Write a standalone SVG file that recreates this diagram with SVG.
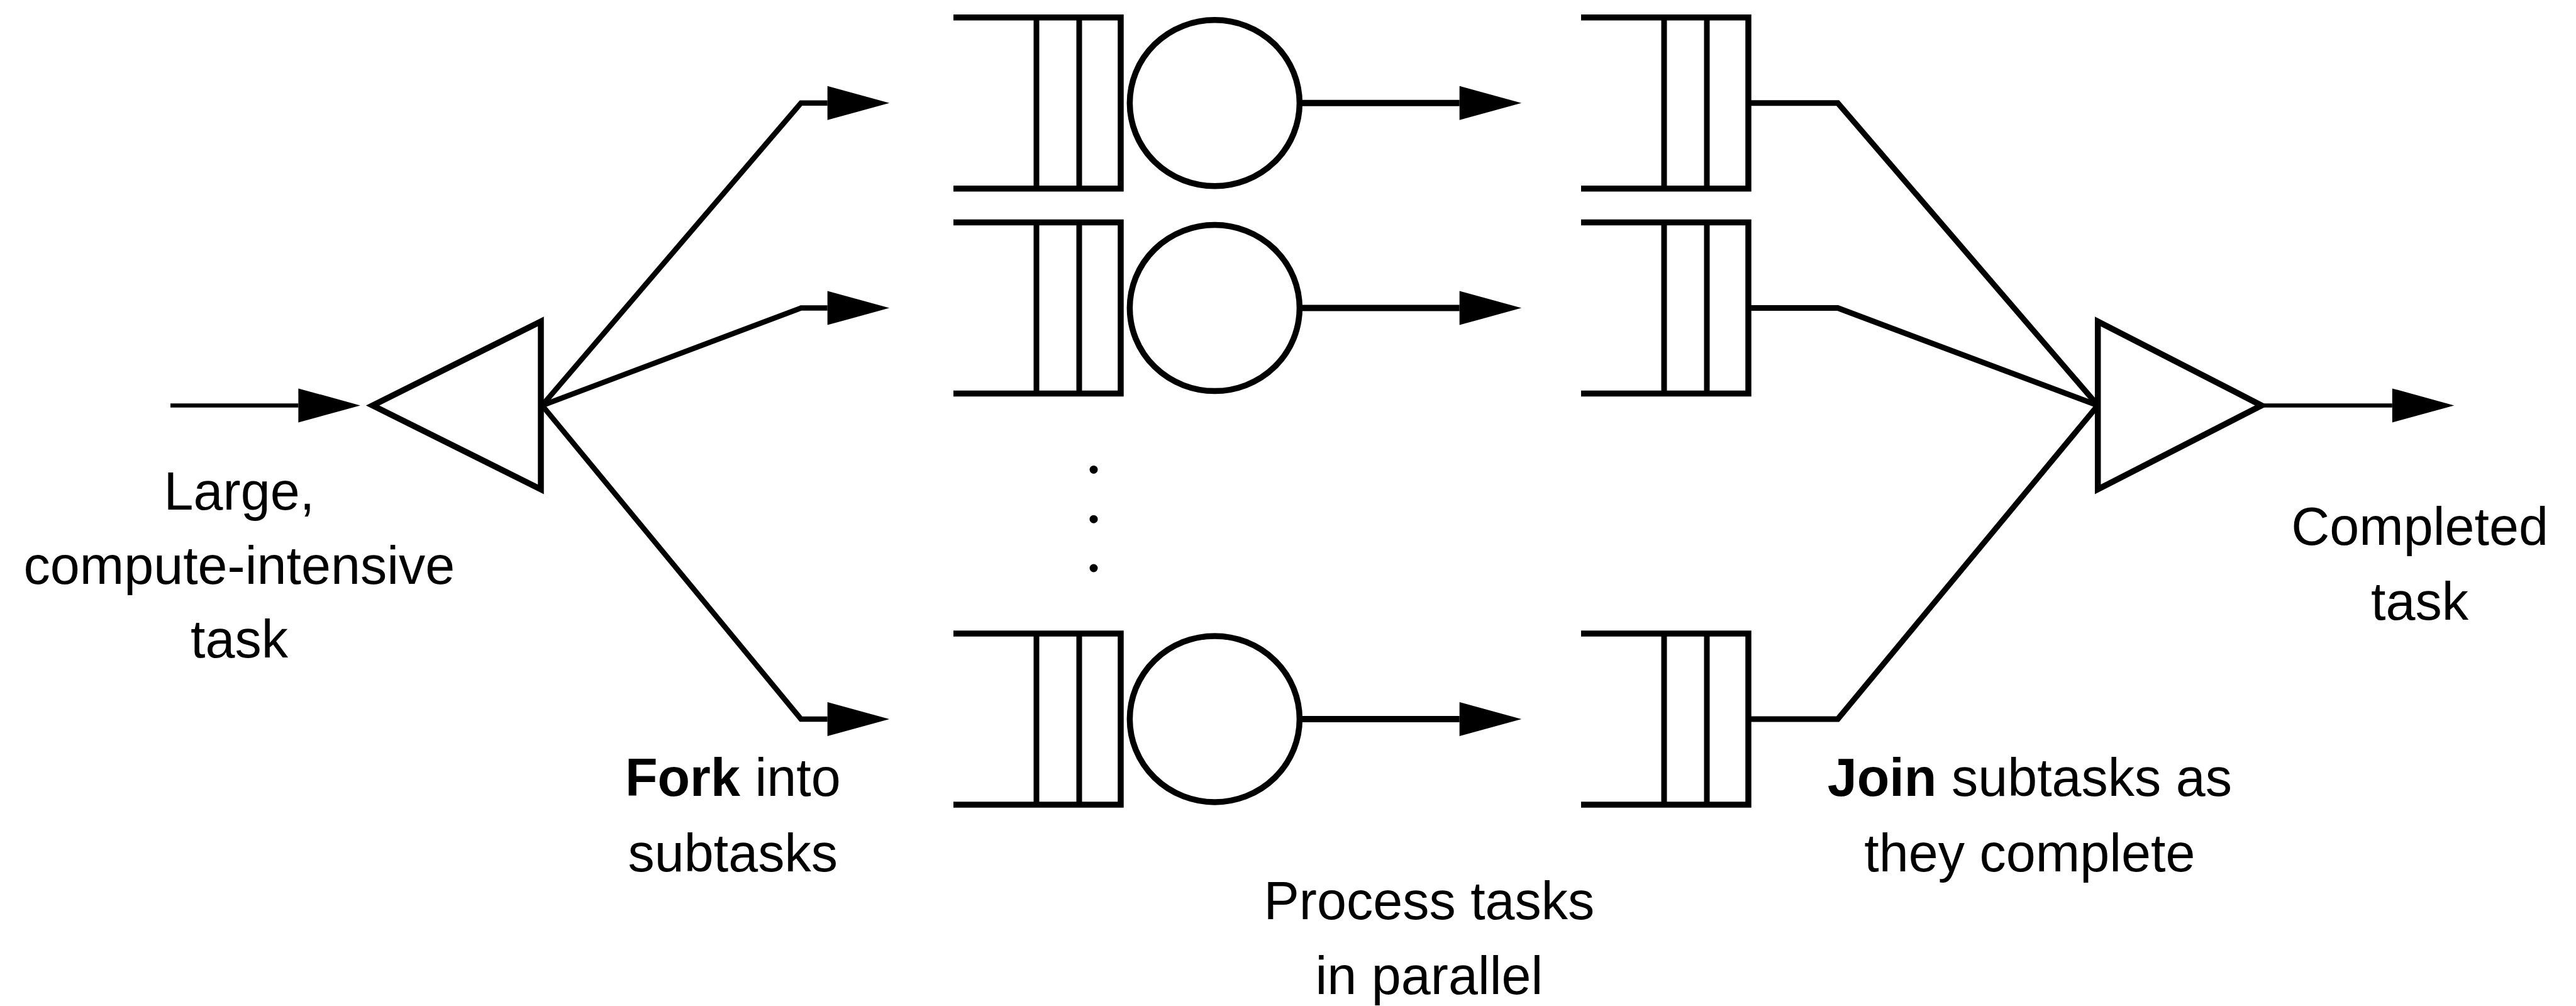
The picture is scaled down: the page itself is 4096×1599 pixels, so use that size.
<svg xmlns="http://www.w3.org/2000/svg" width="4096" height="1599" viewBox="0 0 4096 1599">
  <defs>
    <style>
      .shape { fill: none; stroke: #000; stroke-width: 9.5; stroke-linejoin: miter; stroke-miterlimit: 10; }
      .divider { fill: none; stroke: #000; stroke-width: 9; }
      .server { fill: none; stroke: #000; stroke-width: 9.5; }
      .io { fill: none; stroke: #000; stroke-width: 6.5; }
      .fork { fill: none; stroke: #000; stroke-width: 8.5; stroke-linejoin: miter; }
      .join { fill: none; stroke: #000; stroke-width: 9; stroke-linejoin: miter; }
      .work { fill: none; stroke: #000; stroke-width: 10; }
      .label { font-family: "Liberation Sans", Arial, Helvetica, sans-serif; font-size: 84.5px; fill: #000; text-anchor: middle; }
      .strong { font-weight: bold; }
    </style>
    <marker id="arrow" markerUnits="userSpaceOnUse" markerWidth="100" markerHeight="56" refX="0" refY="0" orient="auto" overflow="visible">
      <path d="M0,-27 L98.5,0 L0,27 Z" fill="#000"/>
    </marker>
    <!-- queue: open on the left, closed on the right, two slot dividers -->
    <g id="queue-shape">
      <path class="shape" d="M0,-136 H266 V136 H0"/>
      <line class="divider" x1="132" y1="-136" x2="132" y2="136"/>
      <line class="divider" x1="200" y1="-136" x2="200" y2="136"/>
    </g>
  </defs>

  <rect width="4096" height="1599" fill="#fff"/>

  <!-- fork and join triangles -->
  <g id="fork-node">
    <polygon class="shape" points="592.5,644.4 860,511 860,777.8"/>
  </g>
  <g id="join-node">
    <polygon class="shape" points="3335.7,511 3596,644.4 3335.7,777.8"/>
  </g>

  <!-- worker rows: queue + server -->
  <g id="worker-1">
    <use href="#queue-shape" x="1516" y="163.8"/>
    <ellipse class="server" cx="1931.4" cy="163.8" rx="135" ry="132"/>
  </g>
  <g id="worker-2">
    <use href="#queue-shape" x="1516" y="489.6"/>
    <ellipse class="server" cx="1931.4" cy="489.6" rx="135" ry="132"/>
  </g>
  <g id="worker-n">
    <use href="#queue-shape" x="1516" y="1142.9"/>
    <ellipse class="server" cx="1931.4" cy="1142.9" rx="135" ry="132"/>
  </g>

  <!-- ellipsis between worker rows -->
  <g id="more-workers">
    <circle cx="1739" cy="746.4" r="6.5" fill="#000"/>
    <circle cx="1739" cy="825.2" r="6.5" fill="#000"/>
    <circle cx="1739" cy="903" r="6.5" fill="#000"/>
  </g>

  <!-- result queues feeding the join -->
  <g id="result-queue-1">
    <use href="#queue-shape" x="2514" y="163.8"/>
  </g>
  <g id="result-queue-2">
    <use href="#queue-shape" x="2514" y="489.6"/>
  </g>
  <g id="result-queue-n">
    <use href="#queue-shape" x="2514" y="1142.9"/>
  </g>

  <g id="connectors">
    <line class="io" x1="271" y1="644.4" x2="474.4" y2="644.4" marker-end="url(#arrow)"/>
    <path class="fork" d="M862,644.4 L1273.6,163.8 H1315.7" marker-end="url(#arrow)"/>
    <path class="fork" d="M862,644.4 L1273.6,489.6 H1315.7" marker-end="url(#arrow)"/>
    <path class="fork" d="M862,644.4 L1273.6,1142.9 H1315.7" marker-end="url(#arrow)"/>
    <line class="work" x1="2067" y1="163.8" x2="2320.7" y2="163.8" marker-end="url(#arrow)"/>
    <line class="work" x1="2067" y1="489.6" x2="2320.7" y2="489.6" marker-end="url(#arrow)"/>
    <line class="work" x1="2067" y1="1142.9" x2="2320.7" y2="1142.9" marker-end="url(#arrow)"/>
    <path class="join" d="M2781,163.8 H2922.2 L3335.7,644.4"/>
    <path class="join" d="M2781,489.6 H2922.2 L3335.7,644.4"/>
    <path class="join" d="M2781,1142.9 H2922.2 L3335.7,644.4"/>
    <line class="io" x1="3599.7" y1="644.4" x2="3803.8" y2="644.4" marker-end="url(#arrow)"/>
  </g>

  <g id="labels">
    <text class="label" x="380.4" y="810">Large,</text>
    <text class="label" x="380.4" y="928.1">compute-intensive</text>
    <text class="label" x="380.4" y="1045.4">task</text>

    <text class="label" x="1165.3" y="1264.6"><tspan class="strong">Fork</tspan> into</text>
    <text class="label" x="1165.3" y="1384.6">subtasks</text>

    <text class="label" x="2272.4" y="1460.6">Process tasks</text>
    <text class="label" x="2272.4" y="1579.7">in parallel</text>

    <text class="label" x="3227.4" y="1264.6"><tspan class="strong">Join</tspan> subtasks as</text>
    <text class="label" x="3227.4" y="1384.6">they complete</text>

    <text class="label" x="3847.6" y="866.4">Completed</text>
    <text class="label" x="3847.6" y="984.5">task</text>
  </g>
</svg>
